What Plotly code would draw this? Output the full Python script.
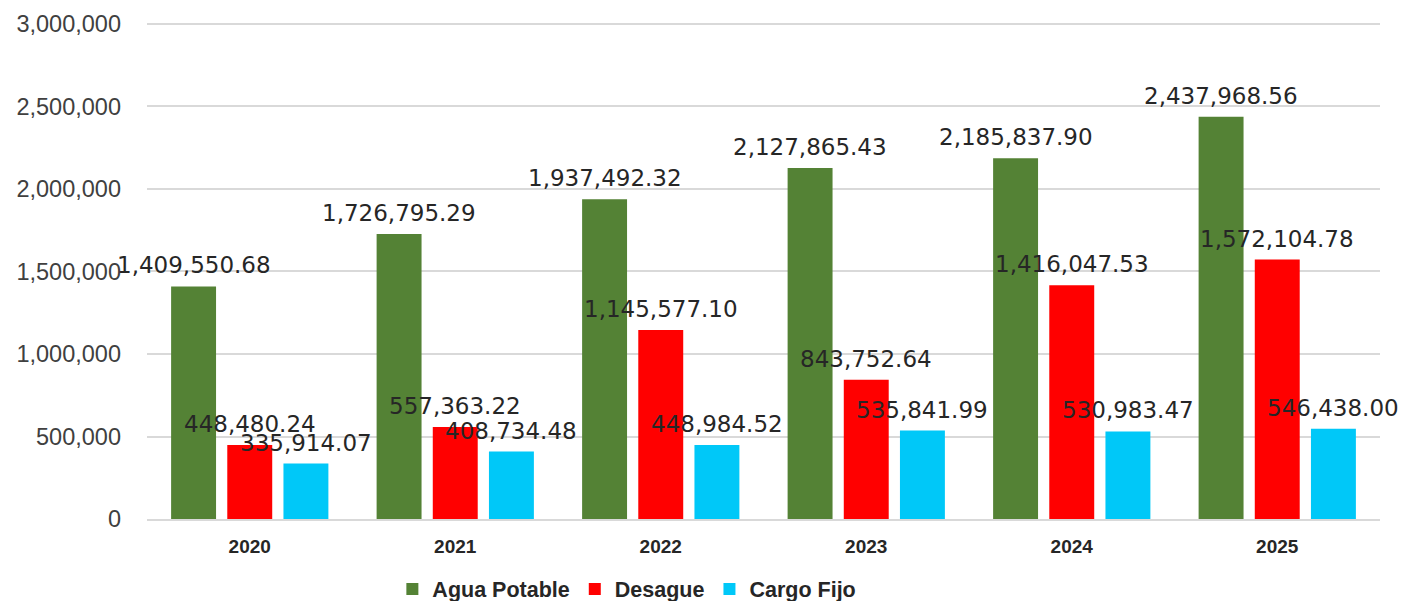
import plotly.graph_objects as go

years = ["2020", "2021", "2022", "2023", "2024", "2025"]
agua_potable = [1409550.68, 1726795.29, 1937492.32, 2127865.43, 2185837.90, 2437968.56]
desague = [448480.24, 557363.22, 1145577.10, 843752.64, 1416047.53, 1572104.78]
cargo_fijo = [335914.07, 408734.48, 448984.52, 535841.99, 530983.47, 546438.00]
y_ticks = [0, 500000, 1000000, 1500000, 2000000, 2500000, 3000000]

series = [
    ("Agua Potable", agua_potable, "#548235"),
    ("Desague", desague, "#FF0000"),
    ("Cargo Fijo", cargo_fijo, "#00C8F8"),
]

W, H = 1400, 593
ML, MR, MT, MB = 139, 28, 14, 82
BARGAP = 0.18
plot_w = W - ML - MR
slot_px = plot_w / len(years) * (1 - BARGAP) / len(series)

fig = go.Figure()
for i, (name, vals, color) in enumerate(series):
    fig.add_trace(go.Bar(
        x=years, y=vals, name=name,
        marker=dict(color=color, line=dict(width=0)),
    ))
for i, (name, vals, color) in enumerate(series):
    for k, v in enumerate(vals):
        fig.add_annotation(
            x=k, y=v, xref="x", yref="y",
            text=f"{v:,.2f}",
            showarrow=False,
            xanchor="center", yanchor="bottom",
            xshift=(i - (len(series) - 1) / 2) * slot_px,
            yshift=6,
            font=dict(family="DejaVu Sans", size=23, color="#262626"),
        )

fig.update_layout(
    width=W, height=H,
    paper_bgcolor="white", plot_bgcolor="white",
    margin=dict(l=ML, r=MR, t=MT, b=MB, autoexpand=False),
    barmode="group",
    bargap=BARGAP,
    bargroupgap=0.2,
    showlegend=True,
    legend=dict(
        orientation="h",
        x=0.199, xanchor="left",
        y=-0.141, yanchor="middle",
        font=dict(family="Liberation Sans", size=21.5, color="#262626", weight="bold"),
        traceorder="normal",
    ),
    xaxis=dict(
        type="category",
        categoryorder="array", categoryarray=years,
        range=[-0.5, len(years) - 0.5],
        tickfont=dict(family="Liberation Sans", size=19, color="#262626", weight="bold"),
        showline=True, linecolor="#d9d9d9", linewidth=1.5,
        ticks="",
        showgrid=False,
        automargin=False,
        ticklabelstandoff=9,
    ),
    yaxis=dict(
        range=[0, 3012000],
        tickvals=y_ticks,
        ticktext=[f"{v:,}" for v in y_ticks],
        tickfont=dict(family="Liberation Sans", size=23.5, color="#404040"),
        gridcolor="#d9d9d9", gridwidth=1.5,
        zeroline=False,
        ticks="",
        automargin=False,
        ticklabelstandoff=25,
    ),
)

fig.write_html("out.html")
